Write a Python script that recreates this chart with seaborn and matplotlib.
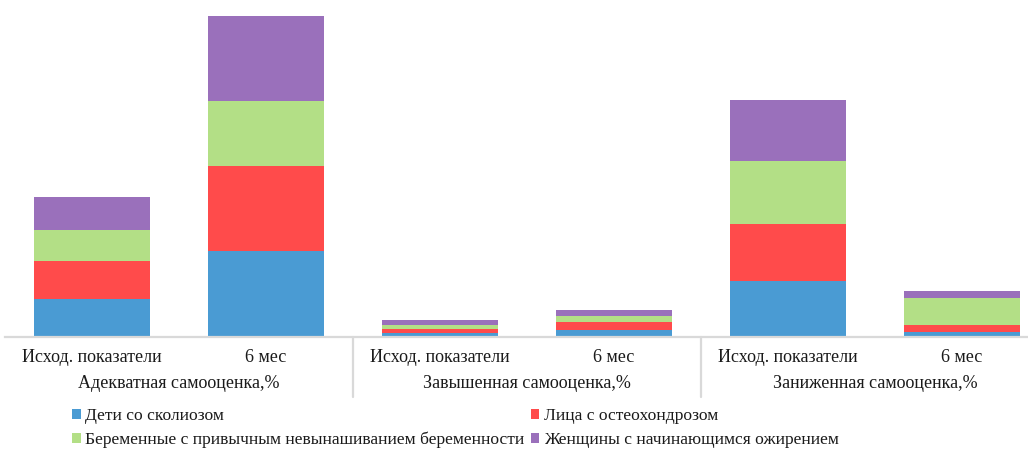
import matplotlib
matplotlib.use("Agg")
import matplotlib.pyplot as plt
import matplotlib.transforms as mtransforms
from matplotlib.patches import Patch
import numpy as np
import pandas as pd
import seaborn as sns

# Groups and sub-periods along the x axis
groups = ["Адекватная самооценка,%", "Завышенная самооценка,%", "Заниженная самооценка,%"]
periods = ["Исход. показатели", "6 мес"]

# Series names
series = [
    "Дети со сколиозом",
    "Лица с остеохондрозом",
    "Беременные с привычным невынашиванием беременности",
    "Женщины с начинающимся ожирением",
]

# Values per bar (group x period order), % of each cohort
scoliosis = [39, 88, 4, 7, 57, 5]
osteochondrosis = [38, 86, 4, 8, 58, 7]
pregnancy = [32, 66, 4, 6, 64, 28]
obesity = [34, 87, 5, 7, 62, 7]

colors = ["#4a9bd3", "#ff4b4b", "#b3df86", "#9a70bb"]

sns.set_theme(style="white")
plt.rcParams["font.family"] = ["Liberation Serif", "DejaVu Serif"]

FS = 13
LEG_FS = 12.6

fig = plt.figure(figsize=(10.28, 4.5), dpi=100)
ax = fig.add_axes([5 / 1028, 113 / 450, 1044 / 1028, 327 / 450])

bar_ids = [f"{g}|{p}" for g in groups for p in periods]
layers = [scoliosis, osteochondrosis, pregnancy, obesity]
cum = np.cumsum(np.array(layers, dtype=float), axis=0)

# Draw stacked bars as overlapping cumulative totals, tallest first
for i in range(len(layers) - 1, -1, -1):
    df = pd.DataFrame({"bar": bar_ids, "value": cum[i]})
    sns.barplot(data=df, x="bar", y="value", order=bar_ids, color=colors[i],
                width=2 / 3, saturation=1, linewidth=0, ax=ax)

ax.set_xlim(-0.5, 5.5)
ax.set_ylim(0, 333)
ax.set_xlabel("")
ax.set_ylabel("")
ax.set_yticks([])
for s in ["top", "right", "left"]:
    ax.spines[s].set_visible(False)
ax.spines["bottom"].set_color("#d9d9d9")
ax.spines["bottom"].set_linewidth(1.6)

ax.set_xticks(range(len(bar_ids)))
ax.set_xticklabels([p for g in groups for p in periods], fontsize=FS, color="#1a1a1a")
ax.tick_params(axis="x", length=0, pad=8.5)

trans = mtransforms.blended_transform_factory(ax.transData, ax.transAxes)
# Group captions below the period labels
for gi, g in enumerate(groups):
    ax.text(gi * 2 + 0.5, -47 / 327, g, transform=trans, ha="center", va="center",
            fontsize=FS, color="#1a1a1a")
# Group separators
for xb in [1.5, 3.5]:
    ax.plot([xb, xb], [0, -60 / 327], transform=trans, color="#d9d9d9",
            linewidth=1.6, clip_on=False)

handles = [Patch(facecolor=c, edgecolor="none") for c in colors]
order = [0, 2, 1, 3]
leg = fig.legend([handles[i] for i in order], [series[i] for i in order],
                 ncol=2, loc="upper left", bbox_to_anchor=(72 / 1028, 1 - 408 / 450),
                 frameon=False, fontsize=LEG_FS, handlelength=0.5, handleheight=0.5,
                 handletextpad=0.25, columnspacing=0.35, labelspacing=0.45,
                 borderaxespad=0, borderpad=0)
for t in leg.get_texts():
    t.set_color("#1a1a1a")

fig.savefig("out.png", dpi=100)
